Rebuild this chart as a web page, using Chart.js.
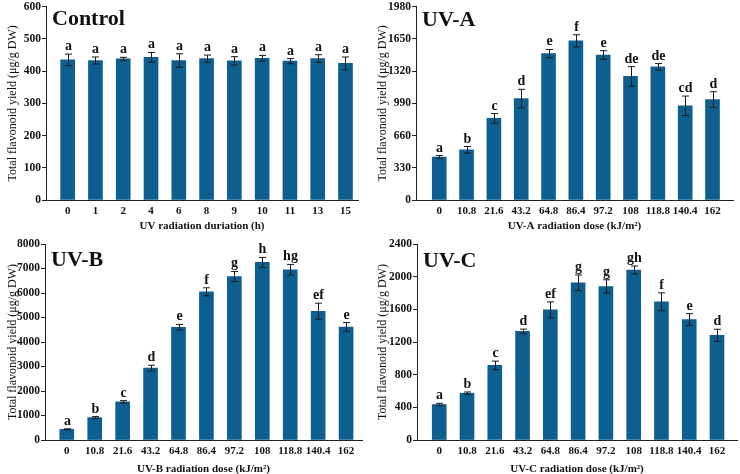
<!DOCTYPE html>
<html>
<head>
<meta charset="utf-8">
<script src="https://cdn.jsdelivr.net/npm/chart.js@4.4.1/dist/chart.umd.min.js"></script>
<style>
  body { margin: 0; background: #fff; }
  .panel { position: absolute; width: 370px; height: 237px; }
</style>
</head>
<body>
<div class="panel" style="left:0;top:0"><canvas id="cControl" width="370" height="237"></canvas></div>
<div class="panel" style="left:370px;top:0"><canvas id="cUVA" width="370" height="237"></canvas></div>
<div class="panel" style="left:0;top:237px"><canvas id="cUVB" width="370" height="237"></canvas></div>
<div class="panel" style="left:370px;top:237px"><canvas id="cUVC" width="370" height="237"></canvas></div>
<script>
// categorias (eixo x)
const controlLabels = ['0', '1', '2', '4', '6', '8', '9', '10', '11', '13', '15'];
const doseLabels = ['0', '10.8', '21.6', '43.2', '64.8', '86.4', '97.2', '108', '118.8', '140.4', '162'];

// Controle
const controlMeans = [435, 433, 438, 443, 433, 439, 432, 440, 431, 439, 424];
const controlErrors = [18, 11, 5, 15, 21, 11, 13, 9, 8, 12, 20];
const controlLetters = ['a', 'a', 'a', 'a', 'a', 'a', 'a', 'a', 'a', 'a', 'a'];

// UV-A
const uvaMeans = [440, 514, 836, 1039, 1500, 1631, 1486, 1266, 1364, 965, 1029];
const uvaErrors = [15, 34, 50, 95, 42, 62, 44, 100, 34, 100, 80];
const uvaLetters = ['a', 'b', 'c', 'd', 'e', 'f', 'e', 'de', 'de', 'cd', 'd'];

// UV-B
const uvbMeans = [437, 915, 1556, 2935, 4600, 6047, 6675, 7248, 6948, 5255, 4614];
const uvbErrors = [20, 40, 50, 115, 115, 165, 205, 205, 218, 330, 180];
const uvbLetters = ['a', 'b', 'c', 'd', 'e', 'f', 'g', 'h', 'hg', 'ef', 'e'];

// UV-C
const uvcMeans = [434, 573, 913, 1331, 1593, 1925, 1880, 2081, 1692, 1475, 1282];
const uvcErrors = [15, 15, 53, 27, 98, 96, 82, 49, 110, 72, 74];
const uvcLetters = ['a', 'b', 'c', 'd', 'ef', 'g', 'g', 'gh', 'f', 'e', 'd'];

const FONT = '"Liberation Serif", "Times New Roman", serif';
const BAR_COLOR = '#0d5f8f';
const Y_TITLE = 'Total flavonoid yield (μg/g DW)';

// Barras de erro + letras de significância + título do painel
const extrasPlugin = {
    id: 'extras',
    afterDatasetsDraw(chart) {
        const o = chart.options.plugins.extras;
        const xs = chart.scales.x;
        const ys = chart.scales.y;
        const ctx = chart.ctx;
        ctx.save();
        ctx.strokeStyle = '#1a1a1a';
        ctx.lineWidth = 1;
        ctx.fillStyle = '#111';
        ctx.font = 'bold 14px ' + FONT;
        ctx.textAlign = 'center';
        ctx.textBaseline = 'alphabetic';
        o.means.forEach((m, i) => {
            const x = Math.round(xs.getPixelForValue(i)) + 0.5;
            const yTop = ys.getPixelForValue(m + o.errors[i]);
            const yBot = ys.getPixelForValue(m - o.errors[i]);
            ctx.beginPath();
            ctx.moveTo(x, yTop);
            ctx.lineTo(x, yBot);
            ctx.moveTo(x - 3.5, yTop);
            ctx.lineTo(x + 3.5, yTop);
            ctx.moveTo(x - 3.5, yBot);
            ctx.lineTo(x + 3.5, yBot);
            ctx.stroke();
            ctx.fillText(o.letters[i], x, yTop - 4);
        });
        ctx.font = 'bold 22px ' + FONT;
        ctx.textAlign = 'left';
        ctx.fillText(o.title, chart.chartArea.left + o.titleDx, o.titleY);
        ctx.restore();
    }
};

function criarPainel(id, p) {
    const ctx = document.getElementById(id).getContext('2d');
    return new Chart(ctx, {
        type: 'bar',
        data: {
            datasets: [{
                data: p.means.map((v, i) => ({ x: i, y: v })),
                backgroundColor: BAR_COLOR,
                borderWidth: 0,
                barThickness: 14
            }]
        },
        options: {
            responsive: false,
            animation: false,
            layout: { padding: { left: 0, right: p.padRight, top: p.padTop, bottom: 0 } },
            plugins: {
                legend: { display: false },
                tooltip: { enabled: false },
                extras: {
                    means: p.means, errors: p.errors, letters: p.letters,
                    title: p.title, titleDx: 6, titleY: p.titleY
                }
            },
            scales: {
                x: {
                    type: 'linear',
                    offset: false,
                    min: p.xMin,
                    max: p.xMax,
                    afterBuildTicks: s => { s.ticks = p.labels.map((_, i) => ({ value: i })); },
                    afterFit: s => { s.height = p.xHeight; },
                    grid: { display: false, offset: false, drawTicks: false, tickLength: 0 },
                    border: { display: true, color: '#222', width: 1 },
                    ticks: {
                        autoSkip: false,
                        maxRotation: 0,
                        padding: 6,
                        color: '#111',
                        font: { family: FONT, size: 11, weight: 'bold', lineHeight: 1 },
                        callback: v => p.labels[v]
                    },
                    title: {
                        display: true,
                        text: p.xTitle,
                        color: '#111',
                        padding: { top: 0, bottom: p.xTitlePad },
                        font: { family: FONT, size: 11, weight: 'bold' }
                    }
                },
                y: {
                    min: 0,
                    max: p.yMax,
                    afterFit: s => { s.width = p.yWidth; },
                    grid: { display: true, drawOnChartArea: false, drawTicks: true, tickLength: 4, color: '#222' },
                    border: { display: true, color: '#222', width: 1 },
                    ticks: {
                        stepSize: p.yStep,
                        padding: 1,
                        color: '#111',
                        font: { family: FONT, size: 11.5, weight: 'bold', lineHeight: 1 },
                        callback: v => String(v)
                    },
                    title: {
                        display: true,
                        text: Y_TITLE,
                        color: '#111',
                        padding: { top: 6, bottom: 0 },
                        font: { family: FONT, size: 12 }
                    }
                }
            }
        },
        plugins: [extrasPlugin]
    });
}

criarPainel('cControl', {
    labels: controlLabels, means: controlMeans, errors: controlErrors, letters: controlLetters,
    title: 'Control', titleY: 25, yMax: 600, yStep: 100,
    xTitle: 'UV radiation duriation (h)',
    xMin: -0.78, xMax: 10.45, padRight: 12, padTop: 0, yWidth: 46, xHeight: 37, xTitlePad: 4
});
criarPainel('cUVA', {
    labels: doseLabels, means: uvaMeans, errors: uvaErrors, letters: uvaLetters,
    title: 'UV-A', titleY: 26, yMax: 1980, yStep: 330,
    xTitle: 'UV-A radiation dose (kJ/m²)',
    xMin: -0.85, xMax: 10.75, padRight: 7, padTop: 0, yWidth: 46, xHeight: 37, xTitlePad: 4
});
criarPainel('cUVB', {
    labels: doseLabels, means: uvbMeans, errors: uvbErrors, letters: uvbLetters,
    title: 'UV-B', titleY: 29, yMax: 8000, yStep: 1000,
    xTitle: 'UV-B radiation dose (kJ/m²)',
    xMin: -0.78, xMax: 10.57, padRight: 8, padTop: 7, yWidth: 45, xHeight: 34, xTitlePad: -2
});
criarPainel('cUVC', {
    labels: doseLabels, means: uvcMeans, errors: uvcErrors, letters: uvcLetters,
    title: 'UV-C', titleY: 30, yMax: 2400, yStep: 400,
    xTitle: 'UV-C radiation dose (kJ/m²)',
    xMin: -0.8, xMax: 10.72, padRight: 3, padTop: 7, yWidth: 47, xHeight: 34, xTitlePad: -2
});
</script>
</body>
</html>
